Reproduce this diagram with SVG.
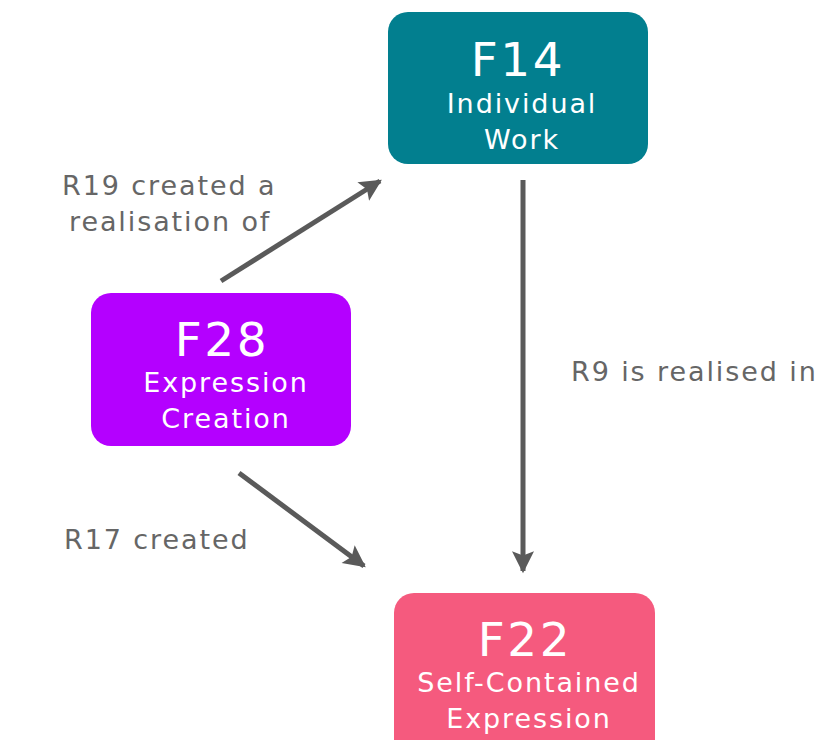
<svg xmlns="http://www.w3.org/2000/svg" width="833" height="740" viewBox="0 0 833 740">
  <style>
    .box-title { font-family: "DejaVu Sans", "Liberation Sans", sans-serif; font-size: 47px; fill: #ffffff; text-anchor: middle; letter-spacing: 2.5px; }
    .box-label { font-family: "DejaVu Sans", "Liberation Sans", sans-serif; font-size: 27px; fill: #ffffff; text-anchor: middle; letter-spacing: 1.9px; }
    .edge-label { font-family: "DejaVu Sans", "Liberation Sans", sans-serif; font-size: 27px; fill: #666666; letter-spacing: 1.9px; }
    .edge { stroke: #5a5a5a; stroke-width: 5; fill: none; marker-end: url(#head); }
  </style>
  <defs>
    <marker id="head" viewBox="0 0 10 10" refX="9" refY="5" markerWidth="5" markerHeight="4.4" orient="auto" markerUnits="strokeWidth">
      <path d="M0,0 L10,5 L0,10 L2,5 Z" fill="#5a5a5a"/>
    </marker>
  </defs>
  <rect width="833" height="740" fill="#ffffff"/>

  <g id="connectors">
    <line class="edge" x1="221" y1="281" x2="380" y2="181"/>
    <line class="edge" x1="523" y1="180" x2="523" y2="571"/>
    <line class="edge" x1="239" y1="473" x2="364" y2="566"/>
    <text class="edge-label" x="62" y="195">R19 created a</text>
    <text class="edge-label" x="69" y="231">realisation of</text>
    <text class="edge-label" x="571" y="381">R9 is realised in</text>
    <text class="edge-label" x="64" y="549">R17 created</text>
  </g>

  <g id="F14">
    <rect x="388" y="12" width="260" height="152" rx="20" fill="#027f8f"/>
    <text class="box-title" x="518" y="76">F14</text>
    <text class="box-label" x="522" y="113">Individual</text>
    <text class="box-label" x="522" y="149">Work</text>
  </g>

  <g id="F28">
    <rect x="91" y="293" width="260" height="153" rx="20" fill="#b400ff"/>
    <text class="box-title" x="222" y="356">F28</text>
    <text class="box-label" x="226" y="392">Expression</text>
    <text class="box-label" x="226" y="428">Creation</text>
  </g>

  <g id="F22">
    <rect x="394" y="593" width="261" height="170" rx="20" fill="#f55a7e"/>
    <text class="box-title" x="525" y="656">F22</text>
    <text class="box-label" x="529" y="692">Self-Contained</text>
    <text class="box-label" x="529" y="728">Expression</text>
  </g>
</svg>
